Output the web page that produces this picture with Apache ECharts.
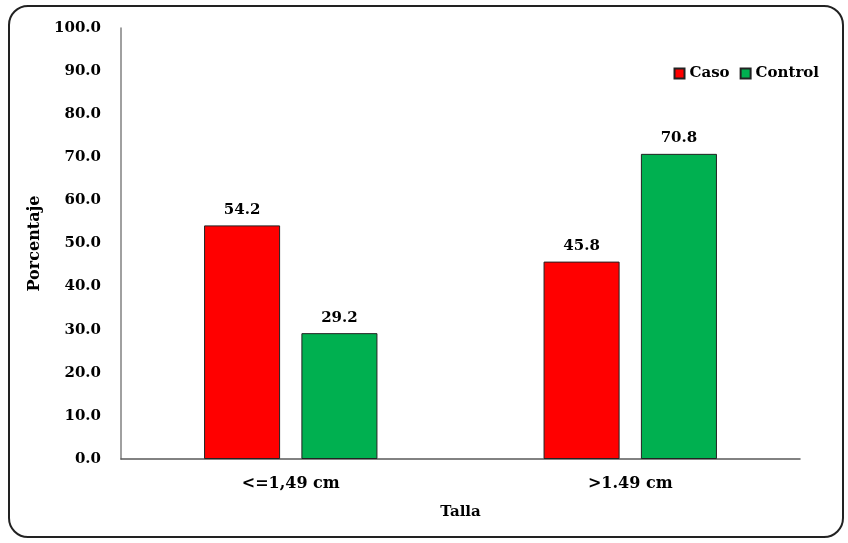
<!DOCTYPE html>
<html>
<head>
<meta charset="utf-8">
<script src="https://cdn.jsdelivr.net/npm/echarts@6/dist/echarts.min.js"></script>
<style>
  html, body { margin: 0; padding: 0; background: #fff; }
  #frame {
    position: absolute; left: 8px; top: 5px; width: 832px; height: 529px;
    border: 2px solid #222; border-radius: 20px; box-sizing: content-box;
  }
  #chart { position: absolute; left: 0; top: 0; width: 848px; height: 543px; }
</style>
</head>
<body>
<div id="frame"></div>
<div id="chart"></div>
<script>
const categories = ['<=1,49 cm', '>1.49 cm'];
const casoValues = [54.2, 45.8];
const controlValues = [29.2, 70.8];

const font = '"DejaVu Serif", "Liberation Serif", serif';
const chart = echarts.init(document.getElementById('chart'));

const labelStyle = {
  show: true,
  position: 'top',
  distance: 8,
  fontFamily: font,
  fontWeight: 'bold',
  fontSize: 15,
  color: '#000',
  formatter: (p) => p.value.toFixed(1),
};

chart.setOption({
  animation: false,
  textStyle: { fontFamily: font },
  grid: { left: 121, right: 48, top: 28, bottom: 84 },
  legend: {
    top: 61,
    right: 24,
    itemWidth: 10,
    itemHeight: 10,
    itemGap: 10,
    icon: 'rect',
    textStyle: { fontFamily: font, fontWeight: 'bold', fontSize: 15, color: '#000' },
    data: ['Caso', 'Control'],
  },
  xAxis: {
    type: 'category',
    data: categories,
    name: 'Talla',
    nameLocation: 'middle',
    nameGap: 46,
    nameTextStyle: { fontFamily: font, fontWeight: 'bold', fontSize: 15, color: '#000' },
    axisLine: { lineStyle: { color: '#595959', width: 1.5 } },
    axisTick: { show: false },
    axisLabel: { fontFamily: font, fontWeight: 'bold', fontSize: 16, color: '#000', margin: 17 },
  },
  yAxis: {
    type: 'value',
    min: 0,
    max: 100,
    interval: 10,
    name: 'Porcentaje',
    nameLocation: 'middle',
    nameGap: 66,
    nameTextStyle: { fontFamily: font, fontWeight: 'bold', fontSize: 16, color: '#000' },
    axisLine: { show: true, lineStyle: { color: '#808080', width: 1.5 } },
    axisTick: { show: false },
    splitLine: { show: false },
    axisLabel: {
      fontFamily: font, fontWeight: 'bold', fontSize: 15, color: '#000', margin: 20,
      formatter: (v) => v.toFixed(1),
    },
  },
  series: [
    {
      name: 'Caso',
      type: 'bar',
      data: casoValues,
      barWidth: '22.4%',
      barGap: '28%',
      itemStyle: { color: '#FF0000', borderColor: '#222', borderWidth: 1 },
      label: labelStyle,
    },
    {
      name: 'Control',
      type: 'bar',
      data: controlValues,
      barWidth: '22.4%',
      itemStyle: { color: '#00B050', borderColor: '#222', borderWidth: 1 },
      label: labelStyle,
    },
  ],
});
</script>
</body>
</html>
